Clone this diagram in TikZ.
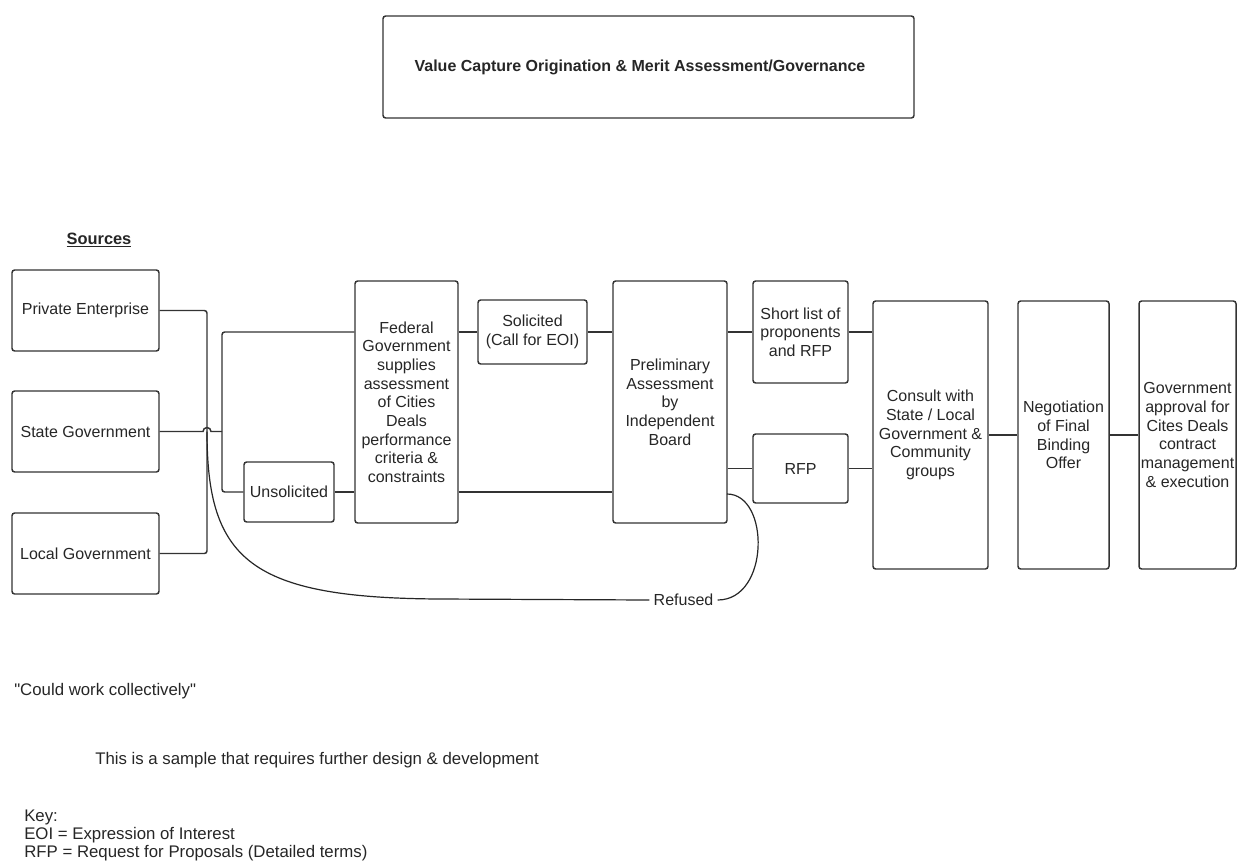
\documentclass[tikz,border=0pt]{standalone}
\usepackage{fontspec}
\setmainfont{Liberation Sans}
\newfontfamily\qfont{Liberation Sans}[Ligatures=TeXOff]
\begin{document}
\begin{tikzpicture}[x=0.75pt,y=-0.75pt,
  every node/.style={font=\fontsize{12}{14}\selectfont, text=black!85},
  box/.style={draw=black!80, line width=1.1pt, rounded corners=2pt, align=center, inner sep=1pt},
  sz/.style 2 args={minimum width=#1*0.75pt, minimum height=#2*0.75pt},
  conn/.style={draw=black!80, line width=1.1pt, rounded corners=2pt},
  curve/.style={draw=black!85, line width=0.9pt},
  plain/.style={inner sep=0pt, anchor=west, font=\fontsize{12.6}{15}\selectfont}]
\useasboundingbox (0,0) rectangle (1248,864);

% title
\node[box, sz={531}{102}] (title) at (648.5,67) {};
\node[inner sep=0pt, font=\fontsize{12}{14}\selectfont\bfseries] (titletext) at (640,67) {Value Capture Origination \& Merit Assessment/Governance};

\node[inner sep=0pt, font=\fontsize{12.3}{14}\selectfont] (sources) at (99,240) {\underline{\textbf{Sources}}};

% sources
\node[box, sz={147}{81}] (pe) at (85.5,310.5) {Private Enterprise};
\node[box, sz={147}{81}] (sg) at (85.5,431.5) {State Government};
\node[box, sz={147}{81}] (lg) at (85.5,553.5) {Local Government};

% middle
\node[box, sz={103}{242}] (fed) at (406.5,402) {Federal\\Government\\supplies\\assessment\\of Cities\\Deals\\performance\\criteria \&\\constraints};
\node[box, sz={90}{60}] (uns) at (289,492) {Unsolicited};
\node[box, sz={109}{64}] (sol) at (532.5,332) {Solicited\\(Call for EOI)};
\node[box, sz={114}{242}] (pre) at (670,402) {Preliminary\\Assessment\\by\\Independent\\Board};
\node[box, sz={95}{102}] (sl) at (800.5,332) {Short list of\\proponents\\and RFP};
\node[box, sz={95}{69}] (rfp) at (800.5,468.5) {RFP};
\node[box, sz={115}{268}] (con) at (930.5,435) {Consult with\\State / Local\\Government \&\\Community\\groups};
\node[box, sz={91}{268}] (neg) at (1063.5,435) {Negotiation\\of Final\\Binding\\Offer};
\node[box, sz={97}{268}] (gov) at (1187.5,435) {Government\\approval for\\Cites Deals\\contract\\management\\\& execution};

% bus coordinates
\coordinate (busTop) at (207,310.5);
\coordinate (busBot) at (207,553.5);
\coordinate (hop) at (207,431.5);
\coordinate (sp) at (222,431.5);
\coordinate (spTop) at (222,332);
\coordinate (spBot) at (222,492);
\coordinate (preR) at (727,494);

\draw[conn] (pe.east) -- (busTop) -- (busBot) -- (lg.east);
\draw[draw=black!80, line width=1.1pt] (sg.east) -- ([xshift=-3pt]hop) arc (180:0:3pt) -- (sp);
\draw[conn] (fed.west |- sol.west) -- (spTop) -- (spBot) -- (uns.west);
\draw[conn] (fed.east |- sol.west) -- (sol.west);
\draw[conn] (sol.east) -- (pre.west |- sol.east);
\draw[conn] (uns.east) -- (fed.west |- uns.east);
\draw[conn] (fed.east |- uns.east) -- (pre.west |- uns.east);
\draw[conn] (pre.east |- sl.west) -- (sl.west);
\draw[conn] (sl.east) -- (con.west |- sl.east);
\draw[conn] (pre.east |- rfp.west) -- (rfp.west);
\draw[conn] (rfp.east) -- (con.west |- rfp.east);
\draw[conn] (con.east) -- (neg.west);
\draw[conn] (neg.east) -- (gov.west);

% refused loop
\node[inner sep=0pt] (ref) at (683.5,600) {Refused};
\draw[curve] (hop) .. controls (207,560) and (250,598) .. (440,599) -- ([xshift=-3pt]ref.west);
\draw[curve] ([xshift=3pt]ref.east) .. controls (770,600) and (770,494) .. (preR);

% notes
\node[plain] (could) at (14,691) {\qfont "Could work collectively"};
\node[plain] (sample) at (95,760) {This is a sample that requires further design \& development};
\node[plain] (key) at (24,817) {Key:};
\node[plain] (eoi) at (24,835) {EOI = Expression of Interest};
\node[plain] (rfpk) at (24,853) {RFP = Request for Proposals (Detailed terms)};
\end{tikzpicture}
\end{document}
